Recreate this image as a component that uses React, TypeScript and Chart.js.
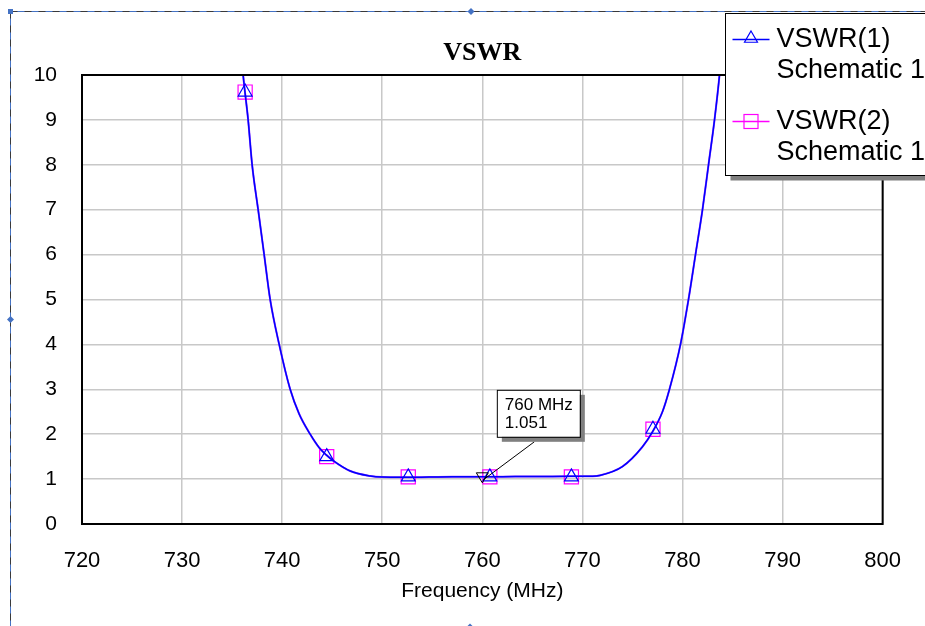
import React, { useEffect, useRef } from 'react';
import { Chart, registerables } from 'chart.js';

Chart.register(...registerables);

// ---- data ----
const curveFreq = [735.95, 736.1, 736.6, 737.0, 737.6, 738.2, 738.8, 739.7, 740.8, 741.7, 742.8, 743.7, 744.4, 745.1, 746.8, 748.8, 750.0, 752.0, 754.7, 757.0, 760.0, 762.0, 764.7, 767.0, 769.5, 771.0, 771.7, 774.0, 776.0, 777.0, 778.0, 778.7, 779.8, 780.6, 781.3, 782.0, 782.6, 783.2, 783.7, 783.85];
const curveVswr = [10.4, 10, 9, 8, 7, 6, 5, 4, 3, 2.45, 2, 1.7, 1.54, 1.41, 1.18, 1.07, 1.045, 1.04, 1.045, 1.05, 1.051, 1.053, 1.058, 1.06, 1.062, 1.065, 1.08, 1.28, 1.72, 2.05, 2.5, 3, 4, 5, 6, 7, 8, 9, 10, 10.4];
const markerFreq = [736.3, 744.45, 752.6, 760.75, 768.9, 777.05];
const markerVswr1 = [9.62, 1.5, 1.05, 1.05, 1.05, 2.11];
const markerVswr2 = [9.62, 1.5, 1.05, 1.05, 1.05, 2.11];
const seriesNames = ['VSWR(1)', 'VSWR(2)'];
const sourceName = 'Schematic 1';
const chartTitle = 'VSWR';
const xAxisTitle = 'Frequency (MHz)';
const xTicksRange = [720, 800, 10];
const yTicksRange = [0, 10, 1];
const markerLabelFreq = 760;
const markerLabelValue = 1.051;
const markerLabelText = ['760 MHz', '1.051'];

const BLUE = '#0000ff';
const MAGENTA = '#ff00ff';
const SANS = "'Liberation Sans', Arial, sans-serif";
const SERIF = "'Liberation Serif', 'Times New Roman', serif";

const pts = (xs: number[], ys: number[]) => xs.map((x, i) => ({ x, y: ys[i] }));

function drawTri(ctx: CanvasRenderingContext2D, x: number, y: number, r: number) {
  ctx.beginPath();
  ctx.moveTo(x, y - r);
  ctx.lineTo(x + r * 0.866, y + r * 0.5);
  ctx.lineTo(x - r * 0.866, y + r * 0.5);
  ctx.closePath();
  ctx.stroke();
}

const decorPlugin = {
  id: 'decor',
  afterDatasetsDraw(chart: any) {
    const { ctx, chartArea: a, scales } = chart;
    ctx.save();
    // plot border
    ctx.strokeStyle = '#000';
    ctx.lineWidth = 2;
    ctx.strokeRect(a.left, a.top, a.right - a.left, a.bottom - a.top);

    // title
    ctx.fillStyle = '#000';
    ctx.font = `bold 26px ${SERIF}`;
    ctx.textAlign = 'center';
    ctx.textBaseline = 'middle';
    ctx.fillText(chartTitle, (a.left + a.right) / 2, 53);

    // marker annotation
    const px = scales.x.getPixelForValue(markerLabelFreq);
    const py = scales.y.getPixelForValue(markerLabelValue);
    const bx = px + 14.5, by = py - 87, bw = 83, bh = 47;
    ctx.strokeStyle = '#000';
    ctx.lineWidth = 1;
    ctx.beginPath();
    ctx.moveTo(px + 52, py - 35);
    ctx.lineTo(px + 1, py + 3);
    ctx.stroke();
    ctx.fillStyle = '#808080';
    ctx.fillRect(bx + 5, by + 5, bw, bh);
    ctx.fillStyle = '#fff';
    ctx.fillRect(bx, by, bw, bh);
    ctx.strokeRect(bx + 0.5, by + 0.5, bw, bh);
    ctx.fillStyle = '#000';
    ctx.font = `17px ${SANS}`;
    ctx.textAlign = 'left';
    ctx.textBaseline = 'middle';
    ctx.fillText(markerLabelText[0], bx + 8, by + 16);
    ctx.fillText(markerLabelText[1], bx + 8, by + 34);
    // inverted triangle marker
    ctx.strokeStyle = '#000';
    ctx.beginPath();
    ctx.moveTo(px - 6, py - 4);
    ctx.lineTo(px + 6, py - 4);
    ctx.lineTo(px, py + 6);
    ctx.closePath();
    ctx.stroke();

    // legend
    const lx = 725.5, ly = 13.5, lw = 215, lh = 162;
    ctx.fillStyle = '#7f7f7f';
    ctx.fillRect(lx + 5, ly + 5, lw, lh);
    ctx.fillStyle = '#fff';
    ctx.fillRect(lx, ly, lw, lh);
    ctx.strokeStyle = '#000';
    ctx.lineWidth = 1;
    ctx.strokeRect(lx, ly, lw, lh);
    const rows = [
      { y: ly + 26, color: BLUE, name: seriesNames[0] },
      { y: ly + 108, color: MAGENTA, name: seriesNames[1] },
    ];
    rows.forEach((r, i) => {
      ctx.strokeStyle = r.color;
      ctx.lineWidth = 1.5;
      ctx.beginPath();
      ctx.moveTo(lx + 7, r.y);
      ctx.lineTo(lx + 44, r.y);
      ctx.stroke();
      ctx.lineWidth = 1.2;
      if (i === 0) {
        drawTri(ctx, lx + 25.5, r.y - 1, 7.5);
      } else {
        ctx.strokeRect(lx + 18.5, r.y - 7, 14, 14);
      }
      ctx.fillStyle = '#000';
      ctx.font = `27px ${SANS}`;
      ctx.textAlign = 'left';
      ctx.textBaseline = 'middle';
      ctx.fillText(r.name, lx + 51, r.y + 0.5);
      ctx.fillText(sourceName, lx + 51, r.y + 31);
    });

    // outer dashed selection frame
    const W = chart.width, H = chart.height;
    ctx.lineWidth = 1;
    ctx.strokeStyle = '#4472c4';
    ctx.setLineDash([]);
    ctx.beginPath();
    ctx.moveTo(10.5, 11.5); ctx.lineTo(W, 11.5);
    ctx.moveTo(10.5, 11.5); ctx.lineTo(10.5, H);
    ctx.stroke();
    ctx.strokeStyle = '#3a3a3a';
    ctx.setLineDash([7, 7]);
    ctx.beginPath();
    ctx.moveTo(10.5, 11.5); ctx.lineTo(W, 11.5);
    ctx.moveTo(10.5, 11.5); ctx.lineTo(10.5, H);
    ctx.stroke();
    ctx.setLineDash([]);
    ctx.fillStyle = '#4472c4';
    ctx.fillRect(8, 9, 5, 5);
    const diamond = (x: number, y: number) => {
      ctx.beginPath();
      ctx.moveTo(x, y - 3.5); ctx.lineTo(x + 3.5, y); ctx.lineTo(x, y + 3.5); ctx.lineTo(x - 3.5, y);
      ctx.closePath(); ctx.fill();
    };
    diamond(471, 11.5);
    diamond(10.5, 319.5);
    diamond(470, H + 1);
    ctx.restore();
  },
};

export default function App() {
  const ref = useRef<HTMLCanvasElement>(null);
  useEffect(() => {
    if (!ref.current) return;
    const chart = new Chart(ref.current, {
      type: 'line',
      data: {
        datasets: [
          {
            label: seriesNames[0] + ' markers',
            data: pts(markerFreq, markerVswr1),
            showLine: false,
            pointStyle: 'triangle',
            pointRadius: 8,
            pointBorderColor: BLUE,
            pointBackgroundColor: 'rgba(0,0,0,0)',
            pointBorderWidth: 1.2,
          },
          {
            label: seriesNames[0],
            data: pts(curveFreq, curveVswr),
            borderColor: BLUE,
            borderWidth: 1.5,
            pointRadius: 0,
            cubicInterpolationMode: 'monotone',
          },
          {
            label: seriesNames[1] + ' markers',
            data: pts(markerFreq, markerVswr2),
            showLine: false,
            pointStyle: 'rect',
            pointRadius: 10,
            pointBorderColor: MAGENTA,
            pointBackgroundColor: 'rgba(0,0,0,0)',
            pointBorderWidth: 1.2,
          },
          {
            label: seriesNames[1],
            data: pts(curveFreq, curveVswr),
            borderColor: '#a040ff',
            borderWidth: 2,
            pointRadius: 0,
            cubicInterpolationMode: 'monotone',
          },
        ],
      },
      options: {
        responsive: false,
        animation: false,
        devicePixelRatio: 1,
        layout: { padding: { top: 75, right: 42, bottom: 0, left: 0 } },
        plugins: {
          legend: { display: false },
          title: { display: false },
          tooltip: { enabled: false },
        },
        scales: {
          x: {
            type: 'linear',
            min: xTicksRange[0],
            max: xTicksRange[1],
            afterFit: (s: any) => { s.height = 102; },
            ticks: {
              stepSize: xTicksRange[2],
              color: '#000',
              padding: 24,
              font: { family: SANS, size: 22 },
            },
            grid: { color: '#c8c8c8', lineWidth: 1.5, drawTicks: false },
            border: { display: false },
            title: {
              display: true,
              text: xAxisTitle,
              color: '#000',
              font: { family: SANS, size: 21 },
              padding: { top: 0, bottom: 22 },
            },
          },
          y: {
            type: 'linear',
            min: yTicksRange[0],
            max: yTicksRange[1],
            afterFit: (s: any) => { s.width = 82; },
            ticks: {
              stepSize: yTicksRange[2],
              color: '#000',
              padding: 25,
              font: { family: SANS, size: 21 },
            },
            grid: { color: '#c8c8c8', lineWidth: 1.5, drawTicks: false },
            border: { display: false },
          },
        },
      },
      plugins: [decorPlugin],
    } as any);
    return () => chart.destroy();
  }, []);
  return (
    <div style={{ position: 'absolute', left: 0, top: 0, width: 925, height: 626, background: '#fff' }}>
      <canvas ref={ref} width={925} height={626} />
    </div>
  );
}
